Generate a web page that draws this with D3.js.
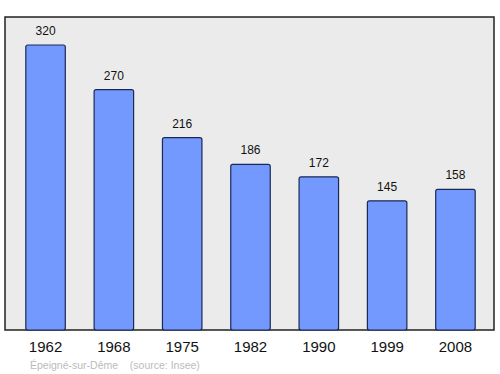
<!DOCTYPE html>
<html><head><meta charset="utf-8">
<script src="https://cdn.jsdelivr.net/npm/d3@7"></script>
<style>body{margin:0;background:#fff}</style>
</head><body>
<svg id="c" width="500" height="374"></svg>
<script>
const years = ["1962","1968","1975","1982","1990","1999","2008"];
const population = [320,270,216,186,172,145,158];
const sourceText = "Épeigné-sur-Dême    (source: Insee)";

const svg = d3.select("#c");
const frame = {left:5, top:17, right:494, bottom:330};
const x = d3.scaleBand().domain(years).range([6, 495]).paddingInner(0.422).paddingOuter(0.29);
const y = d3.scaleLinear().domain([0,320]).range([330,45]);

svg.append("rect").attr("x",frame.left).attr("y",frame.top)
  .attr("width",frame.right-frame.left).attr("height",frame.bottom-frame.top)
  .attr("fill","#ebebeb").attr("stroke","#222").attr("stroke-width",1.5);

svg.selectAll("rect.bar").data(population).join("rect").attr("class","bar")
  .attr("x",(d,i)=>x(years[i])).attr("y",d=>y(d))
  .attr("width",x.bandwidth()).attr("height",d=>y(0)-y(d))
  .attr("rx",2).attr("fill","#7399ff").attr("stroke","#1a2a55").attr("stroke-width",1.2);

svg.selectAll("text.val").data(population).join("text").attr("class","val")
  .attr("x",(d,i)=>x(years[i])+x.bandwidth()/2).attr("y",d=>y(d)-10)
  .attr("text-anchor","middle").attr("font-family","Liberation Sans, Arial, sans-serif")
  .attr("font-size",12).attr("fill","#111").text(d=>d);

const ax = svg.append("g").attr("transform",`translate(0,${frame.bottom})`)
  .call(d3.axisBottom(x).tickSize(0).tickPadding(11));
ax.select(".domain").remove();
ax.selectAll("text").attr("font-family","Liberation Sans, Arial, sans-serif").attr("font-size",15).attr("fill","#111");

svg.append("text").attr("x",30).attr("y",369).attr("font-family","Liberation Sans, Arial, sans-serif")
  .attr("font-size",10.5).attr("fill","#bbb").attr("xml:space","preserve").style("white-space","pre").text(sourceText);
</script>
</body></html>
